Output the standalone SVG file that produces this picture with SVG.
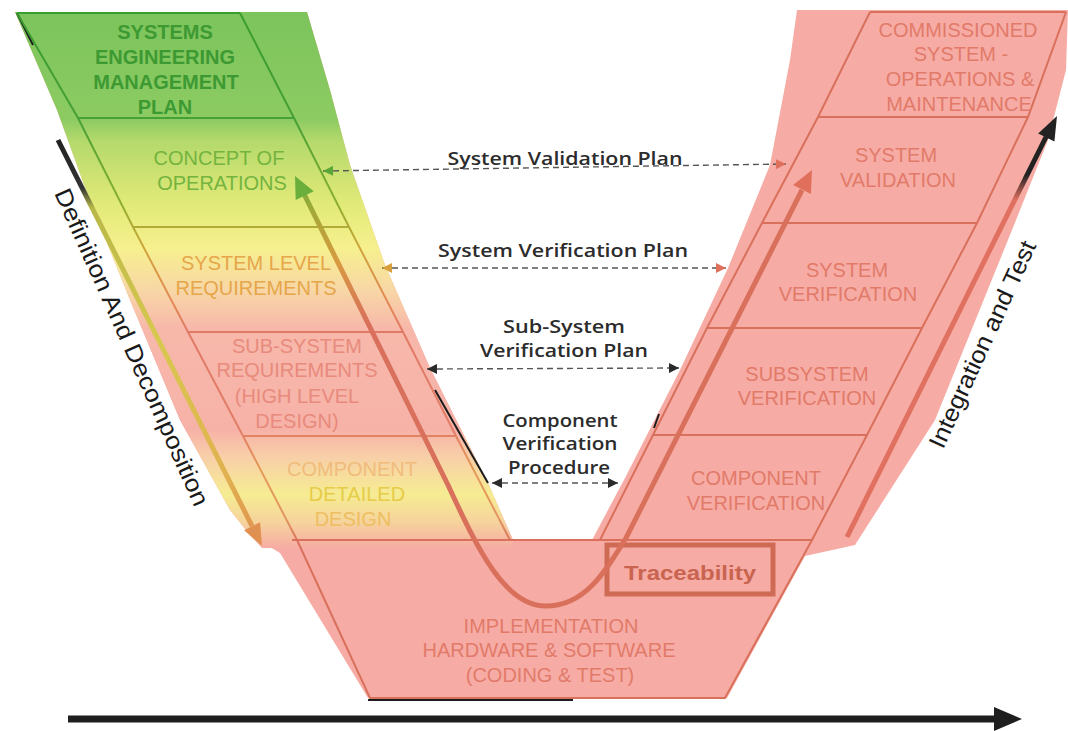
<svg xmlns="http://www.w3.org/2000/svg" width="1068" height="731" viewBox="0 0 1068 731">
  <defs>
    <style>
      .lbl { font-family: "Liberation Sans", Arial, sans-serif; font-size: 20px; text-anchor: middle; }
      .b { font-weight: bold; }
      .rt { fill: #e27a6a; }
      .plan { font-family: "Open Sans", "Noto Sans", sans-serif; font-weight: 600; font-size: 18px; fill: #2c2c2c; text-anchor: middle; }
      .axis { font-family: "Liberation Sans", Arial, sans-serif; font-size: 24px; fill: #1a1a1a; }
      .rline { fill: none; stroke: #d9705c; stroke-width: 2; }
      .lline { fill: none; stroke: url(#lineGrad); stroke-width: 2; }
      .dash { fill: none; stroke: #555; stroke-width: 1.4; stroke-dasharray: 6 4; }
      .edge { fill: none; stroke: #1c1c1c; stroke-width: 2; }
    </style>
    <!-- left arm colour wash: green at the top, yellow, pink, yellow, pink -->
    <linearGradient id="leftFill" gradientUnits="userSpaceOnUse" x1="0" y1="12" x2="0" y2="548">
      <stop offset="0" stop-color="#7cc45c"/>
      <stop offset="0.2" stop-color="#8ccb62"/>
      <stop offset="0.24" stop-color="#b4d96c"/>
      <stop offset="0.36" stop-color="#e2ea78"/>
      <stop offset="0.44" stop-color="#f6f08e"/>
      <stop offset="0.52" stop-color="#f8d6a6"/>
      <stop offset="0.59" stop-color="#f7b8aa"/>
      <stop offset="0.78" stop-color="#f7b2a8"/>
      <stop offset="0.83" stop-color="#f8cfa8"/>
      <stop offset="0.9" stop-color="#f6ec92"/>
      <stop offset="0.95" stop-color="#f6d49c"/>
      <stop offset="1" stop-color="#f6aca4"/>
    </linearGradient>
    <linearGradient id="lineGrad" gradientUnits="userSpaceOnUse" x1="0" y1="12" x2="0" y2="545">
      <stop offset="0" stop-color="#3a9c30"/>
      <stop offset="0.2" stop-color="#45a035"/>
      <stop offset="0.35" stop-color="#86b030"/>
      <stop offset="0.44" stop-color="#cfa63a"/>
      <stop offset="0.54" stop-color="#e38a55"/>
      <stop offset="0.6" stop-color="#e07a66"/>
      <stop offset="0.78" stop-color="#e27d68"/>
      <stop offset="0.86" stop-color="#e49a58"/>
      <stop offset="0.95" stop-color="#e29660"/>
      <stop offset="1" stop-color="#d8705c"/>
    </linearGradient>
    <linearGradient id="curveGrad" gradientUnits="userSpaceOnUse" x1="0" y1="176" x2="0" y2="420">
      <stop offset="0" stop-color="#6aae3c"/>
      <stop offset="0.16" stop-color="#a8a838"/>
      <stop offset="0.35" stop-color="#d89a40"/>
      <stop offset="0.6" stop-color="#d8705c"/>
      <stop offset="1" stop-color="#d8705c"/>
    </linearGradient>
    <linearGradient id="defGrad" gradientUnits="userSpaceOnUse" x1="0" y1="140" x2="0" y2="540">
      <stop offset="0" stop-color="#222"/>
      <stop offset="0.12" stop-color="#333"/>
      <stop offset="0.17" stop-color="#b8b848"/>
      <stop offset="0.5" stop-color="#d8c850"/>
      <stop offset="0.85" stop-color="#e0b050"/>
      <stop offset="1" stop-color="#e09050"/>
    </linearGradient>
    <linearGradient id="intGrad" gradientUnits="userSpaceOnUse" x1="0" y1="537" x2="0" y2="116">
      <stop offset="0" stop-color="#e07060"/>
      <stop offset="0.8" stop-color="#e07060"/>
      <stop offset="0.86" stop-color="#222"/>
      <stop offset="1" stop-color="#222"/>
    </linearGradient>
    <marker id="mkDark" viewBox="0 0 10 10" refX="10" refY="5" markerWidth="12" markerHeight="10" markerUnits="userSpaceOnUse" orient="auto-start-reverse">
      <path d="M0,0 L10,5 L0,10 z" fill="#2a2a2a"/>
    </marker>
    <marker id="mkGreen" viewBox="0 0 10 10" refX="10" refY="5" markerWidth="12" markerHeight="10" markerUnits="userSpaceOnUse" orient="auto-start-reverse">
      <path d="M0,0 L10,5 L0,10 z" fill="#5aa638"/>
    </marker>
    <marker id="mkGold" viewBox="0 0 10 10" refX="10" refY="5" markerWidth="12" markerHeight="10" markerUnits="userSpaceOnUse" orient="auto-start-reverse">
      <path d="M0,0 L10,5 L0,10 z" fill="#d9a040"/>
    </marker>
    <marker id="mkSalmon" viewBox="0 0 10 10" refX="10" refY="5" markerWidth="12" markerHeight="10" markerUnits="userSpaceOnUse" orient="auto-start-reverse">
      <path d="M0,0 L10,5 L0,10 z" fill="#e0705c"/>
    </marker>
  </defs>

  <rect width="1068" height="731" fill="#ffffff"/>

  <!-- V-shaped background -->
  <g id="background">
    <polygon fill="#f6aca4" points="15,12 307,12 330,90 350,165 385,265 430,368 488,483 513,540 592,540 625,478 680,370 728,268 770,165 790,60 797,10 1068,10 1066,70 1048,140 1012,230 935,420 855,545 805,556 727,698 368,698 280,553 250,535 230,510 180,420 130,300 87,193 57,110"/>
    <polygon fill="url(#leftFill)" points="15,12 307,12 330,90 350,165 385,265 430,368 488,483 513,540 513,548 262,548 250,535 230,510 180,420 130,300 87,193 57,110"/>
  </g>

  <!-- remnants of the dark outline -->
  <g id="outline">
    <line class="edge" x1="17" y1="13" x2="33" y2="45"/>
    <line class="edge" x1="435" y1="390" x2="488" y2="483"/>
    <line class="edge" x1="659" y1="414" x2="654" y2="428"/>
    <line class="edge" x1="368" y1="700" x2="573" y2="700"/>
  </g>

  <!-- left column boxes -->
  <g id="left-boxes">
    <polyline class="lline" points="17,13 78,118 133,227 188,332 243,436 297,540"/>
    <polyline class="lline" points="240,13 294,118 349,227 403,332 456,436 510,540"/>
    <line class="lline" x1="17" y1="13" x2="240" y2="13"/>
    <line class="lline" x1="78" y1="118" x2="294" y2="118"/>
    <line class="lline" x1="133" y1="227" x2="349" y2="227"/>
    <line class="lline" x1="188" y1="332" x2="403" y2="332"/>
    <line class="lline" x1="243" y1="436" x2="456" y2="436"/>
  </g>

  <!-- right column boxes -->
  <g id="right-boxes">
    <polyline class="rline" points="870,12 818,117 762,223 707,328 653,435 600,540"/>
    <polyline class="rline" points="1066,12 1028,117 977,223 922,328 867,435 812,540"/>
    <line class="rline" x1="870" y1="12" x2="1066" y2="12"/>
    <line class="rline" x1="818" y1="117" x2="1028" y2="117"/>
    <line class="rline" x1="762" y1="223" x2="977" y2="223"/>
    <line class="rline" x1="707" y1="328" x2="922" y2="328"/>
    <line class="rline" x1="653" y1="435" x2="867" y2="435"/>
  </g>

  <!-- implementation box at the base -->
  <g id="implementation">
    <polyline class="rline" points="292,540 812,540 725,698 370,698 297,540"/>
    <text class="lbl rt" x="551" y="633">IMPLEMENTATION</text>
    <text class="lbl rt" x="549" y="657">HARDWARE &amp; SOFTWARE</text>
    <text class="lbl rt" x="550" y="682">(CODING &amp; TEST)</text>
  </g>

  <g id="semp">
    <text class="lbl b" fill="#3d9a33" x="165" y="39">SYSTEMS</text>
    <text class="lbl b" fill="#3d9a33" x="165" y="64">ENGINEERING</text>
    <text class="lbl b" fill="#3d9a33" x="166" y="89">MANAGEMENT</text>
    <text class="lbl b" fill="#3d9a33" x="165" y="114">PLAN</text>
  </g>
  <g id="conops">
    <text class="lbl" fill="#74b43e" x="219" y="165">CONCEPT OF</text>
    <text class="lbl" fill="#74b43e" x="222" y="190">OPERATIONS</text>
  </g>
  <g id="system-requirements">
    <text class="lbl" fill="#e6a64a" x="256" y="270">SYSTEM LEVEL</text>
    <text class="lbl" fill="#e6a64a" x="256" y="295">REQUIREMENTS</text>
  </g>
  <g id="subsystem-requirements">
    <text class="lbl" fill="#e88a7c" x="297" y="353">SUB-SYSTEM</text>
    <text class="lbl" fill="#e88a7c" x="297" y="377">REQUIREMENTS</text>
    <text class="lbl" fill="#e88a7c" x="297" y="403">(HIGH LEVEL</text>
    <text class="lbl" fill="#e88a7c" x="297" y="428">DESIGN)</text>
  </g>
  <g id="component-design">
    <text class="lbl" fill="#f0bc7c" x="352" y="476">COMPONENT</text>
    <text class="lbl" fill="#e6cc48" x="357" y="501">DETAILED</text>
    <text class="lbl" fill="#eebe62" x="353" y="526">DESIGN</text>
  </g>

  <g id="commissioned">
    <text class="lbl rt" x="958" y="37">COMMISSIONED</text>
    <text class="lbl rt" x="961" y="61">SYSTEM -</text>
    <text class="lbl rt" x="960" y="86">OPERATIONS &amp;</text>
    <text class="lbl rt" x="959" y="111">MAINTENANCE</text>
  </g>
  <g id="system-validation">
    <text class="lbl rt" x="896" y="162">SYSTEM</text>
    <text class="lbl rt" x="898" y="187">VALIDATION</text>
  </g>
  <g id="system-verification">
    <text class="lbl rt" x="847" y="277">SYSTEM</text>
    <text class="lbl rt" x="848" y="301">VERIFICATION</text>
  </g>
  <g id="subsystem-verification">
    <text class="lbl rt" x="807" y="381">SUBSYSTEM</text>
    <text class="lbl rt" x="807" y="405">VERIFICATION</text>
  </g>
  <g id="component-verification">
    <text class="lbl rt" x="756" y="485">COMPONENT</text>
    <text class="lbl rt" x="756" y="510">VERIFICATION</text>
  </g>

  <g id="traceability">
    <rect x="607" y="545" width="166" height="49" fill="none" stroke="#cf6a55" stroke-width="5"/>
    <text class="lbl b" fill="#c8644f" x="690" y="580" textLength="132" lengthAdjust="spacingAndGlyphs">Traceability</text>
  </g>

  <!-- connectors -->
  <g id="connectors">
    <!-- traceability curve -->
    <path d="M304,194 L448,485" fill="none" stroke="url(#curveGrad)" stroke-width="5" stroke-linecap="round"/>
    <path d="M448,485 C478,550 505,606 546,606 C584,606 604,574 626,538 L802,190" fill="none" stroke="#d8705c" stroke-width="5" stroke-linejoin="round"/>
    <polygon points="295,176 313.7,191.3 295.7,200.1" fill="#6aae3c"/>
    <polygon points="812,170 810.9,194.1 793.1,185.1" fill="#e0705c"/>

    <!-- definition and decomposition arrow -->
    <line x1="58" y1="140" x2="252" y2="526" stroke="url(#defGrad)" stroke-width="5"/>
    <polygon points="262,546 244.1,530.3 260.1,522.3" fill="#e09050"/>

    <!-- integration and test arrow -->
    <line x1="847" y1="537" x2="1046" y2="137" stroke="url(#intGrad)" stroke-width="5"/>
    <polygon points="1057,116 1054.4,141.5 1038.2,133.5" fill="#222"/>

    <!-- time axis -->
    <line x1="68" y1="719" x2="998" y2="719" stroke="#1e1e1e" stroke-width="7"/>
    <polygon points="994,707 1022,719 994,731" fill="#1e1e1e"/>

    <!-- plan links -->
    <path class="dash" d="M323,171 L786,164" marker-start="url(#mkGreen)" marker-end="url(#mkSalmon)"/>
    <path class="dash" d="M382,268 L726,268" marker-start="url(#mkGold)" marker-end="url(#mkSalmon)"/>
    <path class="dash" d="M427,369 L679,368" marker-start="url(#mkDark)" marker-end="url(#mkDark)"/>
    <path class="dash" d="M492,483 L618,483" marker-start="url(#mkDark)" marker-end="url(#mkDark)"/>
  </g>

  <g id="plan-labels">
    <text class="plan" x="565" y="165" textLength="235" lengthAdjust="spacingAndGlyphs">System Validation Plan</text>
    <text class="plan" x="563" y="257" textLength="250" lengthAdjust="spacingAndGlyphs">System Verification Plan</text>
    <text class="plan" x="564" y="333" textLength="122" lengthAdjust="spacingAndGlyphs">Sub-System</text>
    <text class="plan" x="564" y="357" textLength="168" lengthAdjust="spacingAndGlyphs">Verification Plan</text>
    <text class="plan" x="560" y="427" textLength="115" lengthAdjust="spacingAndGlyphs">Component</text>
    <text class="plan" x="560" y="450" textLength="115" lengthAdjust="spacingAndGlyphs">Verification</text>
    <text class="plan" x="559" y="474" textLength="102" lengthAdjust="spacingAndGlyphs">Procedure</text>
  </g>

  <g id="axis-labels">
    <text class="axis" transform="translate(54,193) rotate(65.9)" textLength="345" lengthAdjust="spacingAndGlyphs">Definition And Decomposition</text>
    <text class="axis" transform="translate(943,450) rotate(-65.4)" textLength="225" lengthAdjust="spacingAndGlyphs">Integration and Test</text>
  </g>
</svg>
